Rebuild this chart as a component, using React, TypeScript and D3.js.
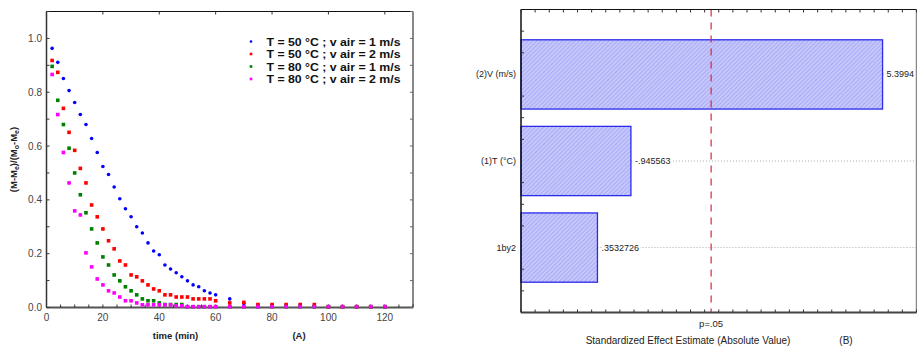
import React from "react";
import * as d3 from "d3";

const times = [2,4,6,8,10,12,14,16,18,20,22,24,26,28,30,32,34,36,38,40,42,44,46,48,50,52,54,56,58,60,65,70,75,80,85,90,95,100,105,110,115,120];

const blue50v1 = [0.963,0.911,0.851,0.806,0.762,0.717,0.680,0.628,0.576,0.524,0.494,0.448,0.404,0.367,0.337,0.300,0.277,0.240,0.210,0.196,0.158,0.143,0.129,0.114,0.099,0.084,0.077,0.062,0.054,0.047,0.032,0.015,0.008,0.008,0.008,0.008,0.008,0.003,0.003,0.003,0.003,0.003];
const red50v2 = [0.918,0.874,0.740,0.651,0.584,0.517,0.463,0.381,0.337,0.292,0.248,0.218,0.173,0.158,0.121,0.114,0.099,0.084,0.069,0.062,0.047,0.047,0.039,0.039,0.039,0.032,0.032,0.032,0.032,0.025,0.017,0.019,0.011,0.011,0.011,0.011,0.011,0.003,0.003,0.003,0.003,0.003];
const green80v1 = [0.896,0.770,0.680,0.592,0.500,0.419,0.352,0.292,0.240,0.188,0.158,0.121,0.099,0.077,0.062,0.047,0.032,0.025,0.025,0.017,0.011,0.011,0.011,0.011,0.003,0.003,0.003,0.003,0.003,0.003,0.003,0.003,0.003,0.003,0.003,0.003,0.003,0.003,0.003,0.003,0.003,0.003];
const magenta80v2 = [0.866,0.717,0.576,0.463,0.359,0.344,0.203,0.151,0.106,0.084,0.062,0.054,0.039,0.025,0.025,0.017,0.010,0.010,0.010,0.010,0.010,0.010,0.006,0.006,0.003,0.003,0.003,0.003,0.003,0.003,0.003,0.003,0.003,0.003,0.003,0.003,0.003,0.003,0.003,0.003,0.003,0.003];

const seriesNames = ["T = 50 °C ; v air = 1 m/s", "T = 50 °C ; v air = 2 m/s", "T = 80 °C ; v air = 1 m/s", "T = 80 °C ; v air = 2 m/s"];
const seriesColors = ["#0000ff", "#ff0000", "#008000", "#ff00ff"];
const seriesShapes = ["circle", "square", "square", "square"];
const seriesValues = [blue50v1, red50v2, green80v1, magenta80v2];

const xTicksL = [0, 20, 40, 60, 80, 100, 120];
const yTicksL = [0.0, 0.2, 0.4, 0.6, 0.8, 1.0];

const effectNames = ["(2)V (m/s)", "(1)T  (°C)", "1by2"];
const effectValues = [5.3994, 0.945563, 0.3532726];
const effectLabels = ["5.3994", "-.945563", ".3532726"];
const pCritical = 2.365;

const FONT = "'Liberation Sans', Arial, sans-serif";

export default function App() {
  const xL = d3.scaleLinear().domain([0, 130]).range([46.5, 413]);
  const yL = d3.scaleLinear().domain([0, 1.1]).range([307.5, 11.5]);

  const xR = d3.scaleLinear().domain([-1, 6]).range([521, 916.5]);
  const yR = d3.scaleLinear().domain([-0.75, 2.75]).range([9.5, 312.5]);

  const minorX = d3.range(0, 131, 5);
  const minorY = d3.range(0, 1.101, 0.1);
  const rTicksX = d3.range(-1, 6.001, 0.25);
  const rTicksY = d3.range(-0.5, 2.6, 0.25).filter((v) => Math.abs(v - Math.round(v)) > 0.01);

  const marker = (shape: string, color: string, cx: number, cy: number, key: string, s = 3.6) =>
    shape === "circle" ? (
      <circle key={key} cx={cx} cy={cy} r={s * 0.5} fill={color} />
    ) : (
      <rect key={key} x={cx - s / 2} y={cy - s / 2} width={s} height={s} fill={color} />
    );

  const barH = yR(0.4) - yR(0);

  return (
    <svg width={917} height={346} style={{ position: "absolute", left: 0, top: 0, background: "#fff" }} fontFamily={FONT}>
      <defs>
        <pattern id="hatch" width="3" height="3" patternUnits="userSpaceOnUse" patternTransform="rotate(45)">
          <rect width="3" height="3" fill="#c6c8fb" />
          <line x1="0" y1="0" x2="0" y2="3" stroke="#8a8cf0" strokeWidth="1" />
        </pattern>
      </defs>

      {/* ---------- Left chart ---------- */}
      <g>
        <line x1={xL(0)} x2={xL(130)} y1={yL(1.1)} y2={yL(1.1)} stroke="#111" strokeWidth={1} />
        <line x1={xL(0)} x2={xL(0)} y1={yL(1.1)} y2={yL(0)} stroke="#333" strokeWidth={1.5} />
        <line x1={xL(130)} x2={xL(130)} y1={yL(1.1)} y2={yL(0)} stroke="#888" strokeWidth={2} />
        <line x1={xL(0)} x2={xL(130)} y1={yL(0)} y2={yL(0)} stroke="#555" strokeWidth={2} />
        {minorX.map((v) => (
          <line key={"bx" + v} x1={xL(v)} x2={xL(v)} y1={yL(0)} y2={yL(0) - 3} stroke="#333" strokeWidth={1} />
        ))}
        {xTicksL.map((v) => (
          <line key={"tx" + v} x1={xL(v)} x2={xL(v)} y1={yL(1.1)} y2={yL(1.1) + 3} stroke="#333" strokeWidth={1} />
        ))}
        {minorY.map((v) => (
          <g key={"ly" + v}>
            <line x1={xL(0)} x2={xL(0) + 3} y1={yL(v)} y2={yL(v)} stroke="#333" strokeWidth={1} />
            <line x1={xL(130)} x2={xL(130) - 3} y1={yL(v)} y2={yL(v)} stroke="#666" strokeWidth={1} />
          </g>
        ))}
        {xTicksL.map((v) => (
          <text key={"xl" + v} x={xL(v)} y={321} fontSize={10} fill="#444" textAnchor="middle">
            {v}
          </text>
        ))}
        {yTicksL.map((v) => (
          <text key={"yl" + v} x={42} y={yL(v) + 3.5} fontSize={10} fill="#444" textAnchor="end">
            {v.toFixed(1)}
          </text>
        ))}
        <text x={175.5} y={339} fontSize={9.5} fontWeight="bold" textAnchor="middle" fill="#222">time (min)</text>
        <text x={299} y={339} fontSize={9.5} fontWeight="bold" textAnchor="middle" fill="#222">(A)</text>
        <text transform={`translate(17,${yL(0.55)}) rotate(-90)`} fontSize={9.5} fontWeight="bold" textAnchor="middle" fill="#222">
          (M-M<tspan fontSize={7} dy={2}>e</tspan><tspan dy={-2}>)/(M</tspan><tspan fontSize={7} dy={2}>o</tspan><tspan dy={-2}>-M</tspan><tspan fontSize={7} dy={2}>e</tspan><tspan dy={-2}>)</tspan>
        </text>
        {seriesValues.map((vals, si) => (
          <g key={"s" + si}>
            {vals.map((v, i) => marker(seriesShapes[si], seriesColors[si], xL(times[i]), yL(v), `p${si}-${i}`))}
          </g>
        ))}
        {seriesNames.map((n, i) => (
          <g key={"lg" + i}>
            {marker(seriesShapes[i], seriesColors[i], 251, 41.5 + i * 12.5, "lm" + i, 2.6)}
            <text x={266.5} y={45.5 + i * 12.5} fontSize={10.5} fontWeight="bold" fill="#111" textLength={134} lengthAdjust="spacingAndGlyphs">
              {n}
            </text>
          </g>
        ))}
      </g>

      {/* ---------- Right chart ---------- */}
      <g>
        {effectValues.map((v, i) => (
          <line key={"g" + i} x1={xR(v)} x2={xR(6)} y1={yR(i)} y2={yR(i)} stroke="#aaa" strokeWidth={1} strokeDasharray="1,2" />
        ))}
        {effectValues.map((v, i) => (
          <rect key={"b" + i} x={xR(-1)} y={yR(i) - barH} width={xR(v) - xR(-1)} height={barH * 2} fill="url(#hatch)" stroke="#2b2bea" strokeWidth={1.3} />
        ))}
        <line x1={xR(pCritical)} x2={xR(pCritical)} y1={yR(-0.75)} y2={yR(2.75)} stroke="#d8283c" strokeWidth={1.2} strokeDasharray="7,6" />
        <line x1={xR(-1)} x2={xR(6)} y1={yR(-0.75)} y2={yR(-0.75)} stroke="#111" strokeWidth={1} />
        <line x1={xR(-1)} x2={xR(-1)} y1={yR(-0.75)} y2={yR(2.75)} stroke="#111" strokeWidth={1.5} />
        <line x1={xR(6)} x2={xR(6)} y1={yR(-0.75)} y2={yR(2.75)} stroke="#888" strokeWidth={1.5} />
        <line x1={xR(-1)} x2={xR(6)} y1={yR(2.75)} y2={yR(2.75)} stroke="#444" strokeWidth={2} />
        {rTicksX.map((v, i) => (
          <g key={"rx" + i}>
            <line x1={xR(v)} x2={xR(v)} y1={yR(-0.75)} y2={yR(-0.75) + 3} stroke="#333" strokeWidth={1} />
            <line x1={xR(v)} x2={xR(v)} y1={yR(2.75)} y2={yR(2.75) - 3} stroke="#333" strokeWidth={1} />
          </g>
        ))}
        {rTicksY.map((v, i) => (
          <line key={"ry" + i} x1={xR(-1)} x2={xR(-1) + 3} y1={yR(v)} y2={yR(v)} stroke="#333" strokeWidth={1} />
        ))}
        {effectNames.map((n, i) => (
          <text key={"en" + i} x={516} y={yR(i) + 3} fontSize={9} fill="#222" textAnchor="end">{n}</text>
        ))}
        {effectLabels.map((l, i) => (
          <text key={"el" + i} x={xR(effectValues[i]) + 4} y={yR(i) + 3} fontSize={9} fill="#222" stroke="#fff" strokeWidth={3} paintOrder="stroke">{l}</text>
        ))}
        <text x={xR(pCritical)} y={327} fontSize={9.5} fill="#222" textAnchor="middle">p=.05</text>
        <text x={688} y={344} fontSize={10} fill="#222" textAnchor="middle">Standardized Effect Estimate (Absolute Value)</text>
        <text x={846} y={344} fontSize={10} fill="#222" textAnchor="middle">(B)</text>
      </g>
    </svg>
  );
}
